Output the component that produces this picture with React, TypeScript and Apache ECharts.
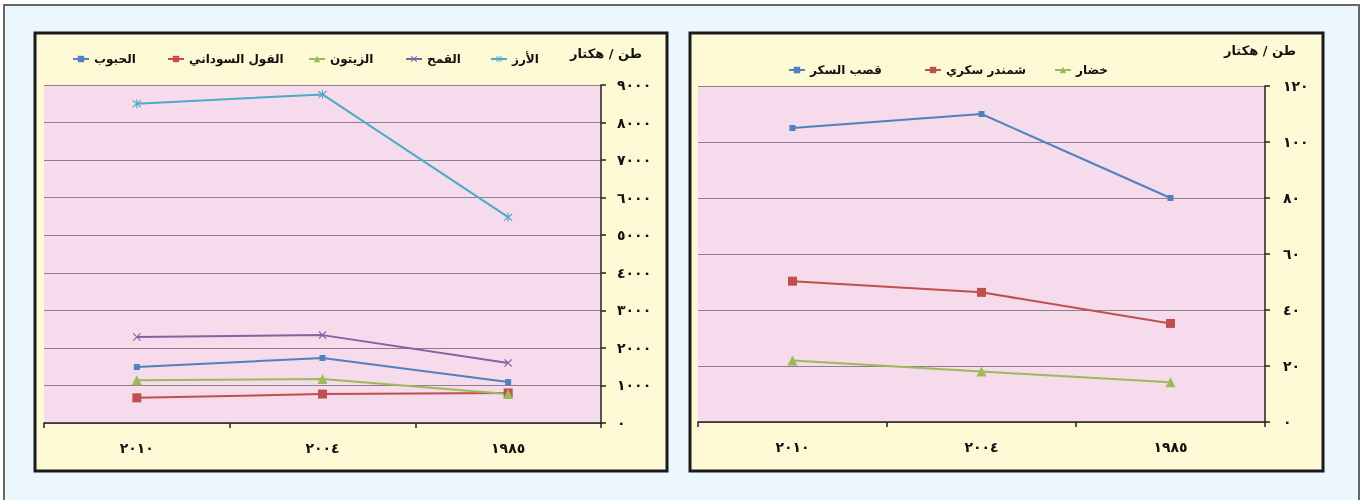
import React, { useEffect, useRef } from "react";
import * as echarts from "echarts";

const categories = ["٢٠١٠", "٢٠٠٤", "١٩٨٥"];

// Left chart (طن / هكتار)
const grains = [1490, 1730, 1090]; // الحبوب
const peanuts = [670, 770, 800]; // الفول السوداني
const olives = [1140, 1170, 770]; // الزيتون
const wheat = [2290, 2340, 1600]; // القمح
const rice = [8500, 8750, 5480]; // الأرز

// Right chart
const sugarCane = [105, 110, 80]; // قصب السكر
const sugarBeet = [50.3, 46.3, 35.2]; // شمندر سكري
const vegetables = [22, 18, 14.2]; // خضار

const leftTickLabels = ["٠", "١٠٠٠", "٢٠٠٠", "٣٠٠٠", "٤٠٠٠", "٥٠٠٠", "٦٠٠٠", "٧٠٠٠", "٨٠٠٠", "٩٠٠٠"];
const rightTickLabels = ["٠", "٢٠", "٤٠", "٦٠", "٨٠", "١٠٠", "١٢٠"];
const unitLabel = "طن / هكتار";

const BLUE = "#4F81BD";
const RED = "#C0504D";
const GREEN = "#9BBB59";
const PURPLE = "#8064A2";
const CYAN = "#4BACC6";

const X_SYMBOL = "path://M1,0 L5,4 L9,0 L10,1 L6,5 L10,9 L9,10 L5,6 L1,10 L0,9 L4,5 L0,1 Z";
const STAR_SYMBOL =
  "path://M1,0 L5,4 L9,0 L10,1 L6,5 L10,9 L9,10 L5,6 L1,10 L0,9 L4,5 L0,1 Z M4.4,-1 L5.6,-1 L5.6,11 L4.4,11 Z";

const FONT = "DejaVu Sans";

export default function App() {
  const ref = useRef<HTMLDivElement>(null);

  useEffect(() => {
    if (!ref.current) return;
    const chart = echarts.init(ref.current, undefined, { renderer: "svg" });

    const textStyle = { fontFamily: FONT, fontWeight: "bold" as const, fontSize: 12, color: "#111" };
    const axisText = { ...textStyle, fontSize: 14 };

    const mkLegend = (name: string, left: number, cy: number) => ({
      data: [name],
      left,
      top: cy - 7,
      padding: 0,
      itemWidth: 16,
      itemHeight: 8,
      itemGap: 0,
      textStyle: { ...textStyle, padding: [0, 0, 0, 0] },
    });

    const xAxisBase = (gridIndex: number) => ({
      type: "category" as const,
      gridIndex,
      data: categories,
      boundaryGap: true,
      axisLine: { show: true, lineStyle: { color: "#222", width: 1.5 } },
      axisTick: { show: true, length: 5, lineStyle: { color: "#222", width: 1.5 } },
      axisLabel: { ...axisText, margin: 18 },
      splitLine: { show: false },
    });

    const lineSeries = (
      name: string,
      data: number[],
      color: string,
      symbol: string,
      symbolSize: number,
      idx: number
    ) => ({
      type: "line" as const,
      name,
      data,
      xAxisIndex: idx,
      yAxisIndex: idx,
      color,
      symbol,
      symbolSize,
      showSymbol: true,
      lineStyle: { color, width: 2 },
      itemStyle: { color },
      z: 5,
    });

    chart.setOption({
      animation: false,
      graphic: [
        {
          type: "rect",
          z: -100,
          shape: { x: 4, y: 5, width: 1355, height: 520 },
          style: { fill: "#EBF6FD", stroke: "#666", lineWidth: 2 },
        },
        {
          type: "rect",
          z: -90,
          shape: { x: 35, y: 33, width: 632, height: 438 },
          style: { fill: "#FEF9D5", stroke: "#1a1a1a", lineWidth: 3 },
        },
        {
          type: "rect",
          z: -90,
          shape: { x: 690, y: 33, width: 633, height: 438 },
          style: { fill: "#FEF9D5", stroke: "#1a1a1a", lineWidth: 3 },
        },
        {
          type: "text",
          x: 606,
          y: 53,
          style: {
            text: unitLabel,
            font: `bold 13px "${FONT}"`,
            fill: "#111",
            textAlign: "center",
            textVerticalAlign: "middle",
          },
        },
        {
          type: "text",
          x: 1260,
          y: 50,
          style: {
            text: unitLabel,
            font: `bold 13px "${FONT}"`,
            fill: "#111",
            textAlign: "center",
            textVerticalAlign: "middle",
          },
        },
      ],
      legend: [
        mkLegend("الحبوب", 72, 60),
        mkLegend("الفول السوداني", 167, 60),
        mkLegend("الزيتون", 308, 60),
        mkLegend("القمح", 405, 60),
        mkLegend("الأرز", 490, 60),
        mkLegend("قصب السكر", 788, 71),
        mkLegend("شمندر سكري", 924, 71),
        mkLegend("خضار", 1054, 71),
      ],
      grid: [
        {
          left: 44,
          top: 85,
          width: 557,
          height: 338,
          show: true,
          backgroundColor: "#F5DBEC",
          borderWidth: 0,
        },
        {
          left: 698,
          top: 86,
          width: 567,
          height: 336,
          show: true,
          backgroundColor: "#F5DBEC",
          borderWidth: 0,
        },
      ],
      xAxis: [xAxisBase(0), xAxisBase(1)],
      yAxis: [
        {
          type: "value",
          gridIndex: 0,
          position: "right",
          min: 0,
          max: 9000,
          interval: 1000,
          axisLine: { show: true, lineStyle: { color: "#222", width: 1.5 } },
          axisTick: { show: true, length: 5, lineStyle: { color: "#222", width: 1.5 } },
          axisLabel: {
            ...axisText,
            margin: 16,
            formatter: (v: number) => leftTickLabels[Math.round(v / 1000)] ?? "",
          },
          splitLine: { show: true, lineStyle: { color: "#8E7E8E", width: 1 } },
        },
        {
          type: "value",
          gridIndex: 1,
          position: "right",
          min: 0,
          max: 120,
          interval: 20,
          axisLine: { show: true, lineStyle: { color: "#222", width: 1.5 } },
          axisTick: { show: true, length: 5, lineStyle: { color: "#222", width: 1.5 } },
          axisLabel: {
            ...axisText,
            margin: 18,
            formatter: (v: number) => rightTickLabels[Math.round(v / 20)] ?? "",
          },
          splitLine: { show: true, lineStyle: { color: "#8E7E8E", width: 1 } },
        },
      ],
      series: [
        lineSeries("الحبوب", grains, BLUE, "rect", 6, 0),
        lineSeries("الفول السوداني", peanuts, RED, "rect", 9, 0),
        lineSeries("الزيتون", olives, GREEN, "triangle", 10, 0),
        lineSeries("القمح", wheat, PURPLE, X_SYMBOL, 8, 0),
        lineSeries("الأرز", rice, CYAN, STAR_SYMBOL, 9, 0),
        lineSeries("قصب السكر", sugarCane, BLUE, "rect", 6, 1),
        lineSeries("شمندر سكري", sugarBeet, RED, "rect", 9, 1),
        lineSeries("خضار", vegetables, GREEN, "triangle", 10, 1),
      ],
    });

    return () => chart.dispose();
  }, []);

  return (
    <div
      ref={ref}
      style={{ position: "fixed", left: 0, top: 0, width: 1367, height: 500 }}
    />
  );
}
